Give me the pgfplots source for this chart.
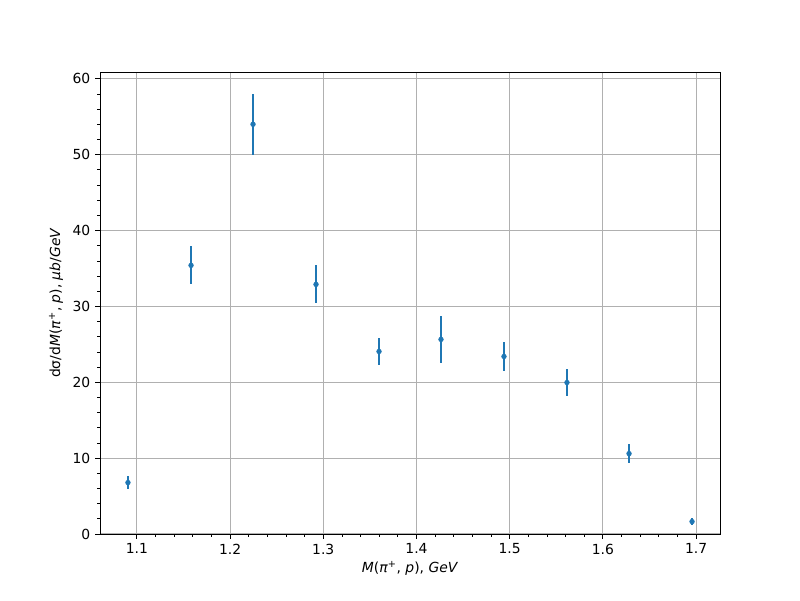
\documentclass[border=0pt]{standalone}
\usepackage{fontspec}
\setmainfont{DejaVu Sans}
\usepackage{pgfplots}
\pgfplotsset{compat=1.18}
\definecolor{mplblue}{HTML}{1F77B4}
\definecolor{mplgrid}{HTML}{B0B0B0}
\begin{document}
\begin{tikzpicture}[x=1pt,y=1pt]
\useasboundingbox (0,0) rectangle (576,432);
\begin{axis}[
  at={(72pt,47.52pt)}, anchor=south west,
  scale only axis, width=446.4pt, height=332.64pt,
  xmin=1.0604, xmax=1.7257, ymin=0, ymax=60.9,
  xtick={1.1,1.2,1.3,1.4,1.5,1.6,1.7},
  ytick={0,10,20,30,40,50,60},
  minor x tick num=4, minor y tick num=4,
  xticklabel style={/pgf/number format/.cd, fixed, fixed zerofill, precision=1},
  /pgf/number format/assume math mode=true,
  tick align=outside, tick pos=left,
  major tick length=3.5pt, minor tick length=2pt,
  every tick/.style={black, line width=0.7pt},
  minor tick style={line width=0.55pt},
  axis line style={line width=0.6pt},
  grid=major, major grid style={mplgrid, line width=0.75pt},
  tick label style={font=\fontsize{10}{12}\selectfont},
  label style={font=\fontsize{10}{12}\selectfont},
  xlabel={\textit{M}(\textit{π}\textsuperscript{+}, \textit{p}), \textit{GeV}},
  ylabel={dσ/d\textit{M}(\textit{π}\textsuperscript{+}, \textit{p}), \textit{μb}/\textit{GeV}},
  xlabel style={yshift=2pt},
  ylabel style={yshift=0pt},
]
\addplot[only marks, mark=*, mark size=1.7pt, color=mplblue,
  error bars/.cd, y dir=both, y explicit, error mark=none,
  error bar style={line width=1.45pt, mplblue}]
  table[x=x, y=y, y error=e] {
  x y e
  1.0904 6.78 0.85
  1.1581 35.41 2.5
  1.2246 54.01 4.0
  1.2922 32.90 2.5
  1.3598 24.06 1.8
  1.4263 25.65 3.05
  1.4939 23.40 1.95
  1.5615 19.97 1.8
  1.6281 10.60 1.25
  1.6957 1.64 0.5
  };
\end{axis}
\end{tikzpicture}
\end{document}
